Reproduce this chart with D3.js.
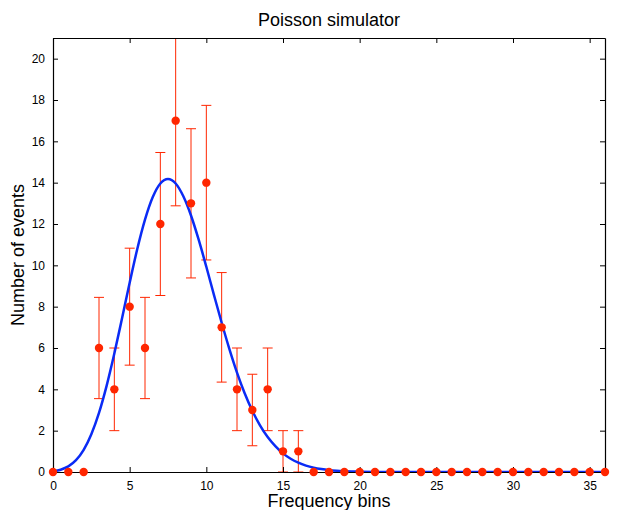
<!DOCTYPE html>
<html>
<head>
<meta charset="utf-8">
<script src="https://cdn.jsdelivr.net/npm/d3@7"></script>
<style>
  body { margin: 0; background: #fff; }
  svg { font-family: "Liberation Sans", Arial, sans-serif; }
</style>
</head>
<body>
<div id="wrapper"></div>
<script>
// bins and simulated counts
const bins = d3.range(0, 37);
const counts = [0, 0, 0, 6, 4, 8, 6, 12, 17, 13, 14, 7, 4, 3, 4, 1, 1,
  0, 0, 0, 0, 0, 0, 0, 0, 0, 0, 0, 0, 0, 0, 0, 0, 0, 0, 0, 0];
// error half-lengths
const errors = [0, 0, 0, 2.45, 2, 2.83, 2.45, 3.46, 4.12, 3.61, 3.74, 2.65, 2, 1.73, 2, 1, 1,
  0, 0, 0, 0, 0, 0, 0, 0, 0, 0, 0, 0, 0, 0, 0, 0, 0, 0, 0, 0];

// fitted curve samples
const curveX = [0, 0.5, 1, 1.5, 2, 2.5, 3, 3.5, 4, 4.5, 5, 5.5, 6, 6.5, 7, 7.5, 8, 8.5, 9, 9.5,
  10, 10.5, 11, 11.5, 12, 12.5, 13, 13.5, 14, 14.5, 15, 15.5, 16, 16.5, 17, 17.5, 18, 18.5,
  19, 19.5, 20, 21, 22, 24, 28, 32, 36];
const curveY = [0.03, 0.11, 0.27, 0.57, 1.07, 1.83, 2.86, 4.18, 5.73, 7.43, 9.16, 10.8, 12.21,
  13.29, 13.96, 14.18, 13.96, 13.34, 12.41, 11.24, 9.93, 8.56, 7.22, 5.96, 4.81, 3.81, 2.96,
  2.26, 1.69, 1.25, 0.9, 0.64, 0.45, 0.31, 0.21, 0.14, 0.09, 0.06, 0.04, 0.025, 0.016, 0.006,
  0.002, 0, 0, 0, 0];

const xTicks = [0, 5, 10, 15, 20, 25, 30, 35];
const yTicks = [0, 2, 4, 6, 8, 10, 12, 14, 16, 18, 20];

const width = 617, height = 510;
let dimensions = {
  width: width,
  height: height,
  margin: { top: 38, right: 12, bottom: 38, left: 53 },
};
dimensions.boundedWidth = dimensions.width - dimensions.margin.left - dimensions.margin.right;
dimensions.boundedHeight = dimensions.height - dimensions.margin.top - dimensions.margin.bottom;

const red = "#ff2600";
const blue = "#0a2bf5";

const svg = d3.select("#wrapper")
  .append("svg")
  .attr("width", width)
  .attr("height", height);

const bounds = svg.append("g")
  .attr("transform", `translate(${dimensions.margin.left},${dimensions.margin.top})`);

const xScale = d3.scaleLinear().domain([0, 36]).range([0, dimensions.boundedWidth]);
const yScale = d3.scaleLinear().domain([0, 21]).range([dimensions.boundedHeight, 0]);

// clip lines to plot box
svg.append("defs").append("clipPath").attr("id", "clip")
  .append("rect")
  .attr("x", 0).attr("y", 0)
  .attr("width", dimensions.boundedWidth)
  .attr("height", dimensions.boundedHeight);

const plot = bounds.append("g").attr("clip-path", "url(#clip)");

const data = bins.map((b, i) => ({ x: b, y: counts[i], e: errors[i] }));
const withErr = data.filter(d => d.e > 0);

// error bars
const eb = plot.append("g").attr("stroke", red).attr("stroke-width", 1).attr("fill", "none");
eb.selectAll("line.v").data(withErr).enter().append("line")
  .attr("x1", d => xScale(d.x)).attr("x2", d => xScale(d.x))
  .attr("y1", d => yScale(d.y - d.e)).attr("y2", d => yScale(d.y + d.e));
eb.selectAll("line.t").data(withErr).enter().append("line")
  .attr("x1", d => xScale(d.x) - 5).attr("x2", d => xScale(d.x) + 5)
  .attr("y1", d => yScale(d.y + d.e)).attr("y2", d => yScale(d.y + d.e));
eb.selectAll("line.b").data(withErr).enter().append("line")
  .attr("x1", d => xScale(d.x) - 5).attr("x2", d => xScale(d.x) + 5)
  .attr("y1", d => yScale(d.y - d.e)).attr("y2", d => yScale(d.y - d.e));

// fitted curve
const line = d3.line()
  .x((d, i) => xScale(curveX[i]))
  .y(d => yScale(d))
  .curve(d3.curveMonotoneX);

plot.append("path")
  .datum(curveY)
  .attr("d", line)
  .attr("fill", "none")
  .attr("stroke", blue)
  .attr("stroke-width", 2.5);

// box and axes
const tickLen = 5;
const xAxis = bounds.append("g")
  .attr("transform", `translate(0,${dimensions.boundedHeight})`)
  .call(d3.axisBottom(xScale).tickValues(xTicks).tickSizeInner(-tickLen).tickSizeOuter(0).tickPadding(9));
const xAxisTop = bounds.append("g")
  .call(d3.axisTop(xScale).tickValues(xTicks).tickSizeInner(-tickLen).tickSizeOuter(0).tickFormat(""));
const yAxis = bounds.append("g")
  .call(d3.axisLeft(yScale).tickValues(yTicks).tickSizeInner(-tickLen).tickSizeOuter(0).tickPadding(8));
const yAxisRight = bounds.append("g")
  .attr("transform", `translate(${dimensions.boundedWidth},0)`)
  .call(d3.axisRight(yScale).tickValues(yTicks).tickSizeInner(-tickLen).tickSizeOuter(0).tickFormat(""));

[xAxis, xAxisTop, yAxis, yAxisRight].forEach(a => {
  a.select(".domain").attr("stroke", "#000").attr("stroke-width", 1.2);
  a.selectAll(".tick line").attr("stroke", "#000");
  a.selectAll(".tick text")
    .attr("font-family", "'Liberation Sans', Arial, sans-serif")
    .attr("font-size", "12px")
    .attr("fill", "#000");
});

// points (not clipped, they sit on the axis)
bounds.append("g").selectAll("circle")
  .data(data).enter().append("circle")
  .attr("cx", d => xScale(d.x))
  .attr("cy", d => yScale(d.y))
  .attr("r", 4.2)
  .attr("fill", red);

// text
svg.append("text")
  .attr("x", dimensions.margin.left + dimensions.boundedWidth / 2)
  .attr("y", 26)
  .attr("text-anchor", "middle")
  .attr("font-size", "18px")
  .text("Poisson simulator");

svg.append("text")
  .attr("x", dimensions.margin.left + dimensions.boundedWidth / 2)
  .attr("y", 507)
  .attr("text-anchor", "middle")
  .attr("font-size", "18px")
  .text("Frequency bins");

svg.append("text")
  .attr("transform", `translate(24,${dimensions.margin.top + dimensions.boundedHeight / 2}) rotate(-90)`)
  .attr("text-anchor", "middle")
  .attr("font-size", "18px")
  .text("Number of events");
</script>
</body>
</html>
